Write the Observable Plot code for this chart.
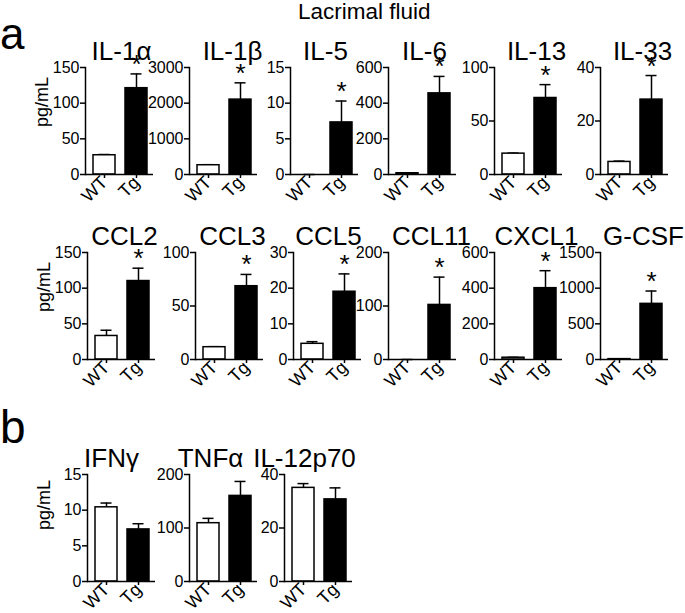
<!DOCTYPE html>
<html><head><meta charset="utf-8">
<script src="https://cdn.jsdelivr.net/npm/d3@7"></script>
<script src="https://cdn.jsdelivr.net/npm/@observablehq/plot@0.6"></script>
<style>
body{margin:0;background:#fff;}
#fig{position:relative;width:685px;height:613px;font-family:"Liberation Sans",Arial,sans-serif;color:#000;overflow:hidden;}
.lbl{position:absolute;white-space:nowrap;line-height:1;}
</style></head><body><div id="fig"></div>
<script>
// ---- data ----
const groups = ["WT", "Tg"];
const cytokines = ["IL-1α","IL-1β","IL-5","IL-6","IL-13","IL-33",
                   "CCL2","CCL3","CCL5","CCL11","CXCL1","G-CSF",
                   "IFNγ","TNFα","IL-12p70"];
const wtMean = [27, 260, 0, 7, 19.5, 4.7,  33, 11.5, 4.4, 0, 10, 5,  10.4, 109, 35];
const wtUpper = [28, 275, 0, 9, 20, 5,     41, 12, 5, 0, 12, 6,     11.0, 118, 36.6];
const tgMean = [121, 2100, 7.3, 455, 71.5, 28,  110, 68.5, 19, 102, 400, 780,  7.3, 160, 30.7];
const tgUpper = [141, 2570, 10.3, 550, 84, 37,  128, 79.5, 24, 154, 498, 960,  8.1, 187, 35];
const yTicks = [[0,50,100,150],[0,1000,2000,3000],[0,5,10,15],[0,200,400,600],[0,50,100],[0,20,40],
                [0,50,100,150],[0,50,100],[0,10,20,30],[0,100,200],[0,200,400,600],[0,500,1000,1500],
                [0,5,10,15],[0,100,200],[0,20,40]];
const significant = [true,true,true,true,true,true, true,true,true,true,true,true, false,false,false];

// ---- layout (panel placement only) ----
const axisXs = [85,189,290,388,494,600, 87,195,293,388,494,600, 87,189,284];
const frameTops = [67,67,67,67,67,67, 252,252,252,252,252,252, 474,474,474];
const titleDx = [2,9,1,2,8,8, 3,3,1,9,8,9, -10,-13,-14];
const yLabelPanels = {0: 6, 6: 6, 12: 2};

const fig = document.getElementById("fig");
const FONT = '"Liberation Sans", Arial, sans-serif';

function addLabel(text, left, top, size) {
  const d = document.createElement("div");
  d.className = "lbl";
  d.textContent = text;
  d.style.left = left + "px";
  d.style.top = top + "px";
  d.style.fontSize = size + "px";
  fig.appendChild(d);
  return d;
}

function panel(i) {
  const data = groups.map((g, j) => ({
    group: g,
    mean: j ? tgMean[i] : wtMean[i],
    upper: j ? tgUpper[i] : wtUpper[i]
  }));
  const ML = 62, MT = 45, MR = 14, MB = 40, FW = 68, FH = 107;
  const ticks = yTicks[i];
  const marks = [
    Plot.ruleX(data, {x: "group", y1: "mean", y2: "upper", stroke: "black", strokeWidth: 1.5}),
    Plot.tickY(data, {x: "group", y: "upper", insetLeft: 5.5, insetRight: 5.5, stroke: "black", strokeWidth: 1.5}),
    Plot.barY(data, {x: "group", y: "mean", fill: "group", stroke: "black", strokeWidth: 1.5}),
    Plot.frame({anchor: "left", stroke: "black", strokeWidth: 1.5}),
    Plot.ruleY([0], {stroke: "black", strokeWidth: 1.5}),
    Plot.axisY({ticks, tickFormat: d3.format("d"), tickSize: 5, tickPadding: 1, label: null, fontSize: 16, strokeWidth: 1.5}),
    Plot.axisX({tickRotate: -45, tickSize: 4, tickPadding: 1, label: null, fontSize: 18, strokeWidth: 1.5}),
    Plot.text(significant[i] ? [data[1]] : [], {x: "group", y: "upper", text: () => "*", fontSize: 26, lineAnchor: "bottom", dy: -1}),
    Plot.text([cytokines[i]], {frameAnchor: "top", lineAnchor: "bottom", dy: -8, dx: titleDx[i], fontSize: 26})
  ];
  if (i in yLabelPanels) {
    marks.push(Plot.text(["pg/mL"], {frameAnchor: "left", dx: -43, dy: yLabelPanels[i], rotate: -90, fontSize: 18}));
  }
  const chart = Plot.plot({
    width: ML + FW + MR, height: MT + FH + MB,
    marginLeft: ML, marginTop: MT, marginRight: MR, marginBottom: MB,
    style: {background: "none", overflow: "visible", fontFamily: FONT, fontSize: "16px", color: "black"},
    x: {domain: groups, range: [ML + 3, ML + FW], paddingInner: 0.3, paddingOuter: 0.136},
    y: {domain: [0, d3.max(ticks)]},
    color: {domain: groups, range: ["white", "black"]},
    marks
  });
  chart.style.position = "absolute";
  chart.style.left = (axisXs[i] - ML) + "px";
  chart.style.top = (frameTops[i] - MT) + "px";
  fig.appendChild(chart);
}

for (let i = 0; i < cytokines.length; i++) panel(i);

addLabel("Lacrimal fluid", 298, 1, 22.5);
addLabel("a", 0, 12, 44);
addLabel("b", 0, 404, 46);
</script></body></html>
